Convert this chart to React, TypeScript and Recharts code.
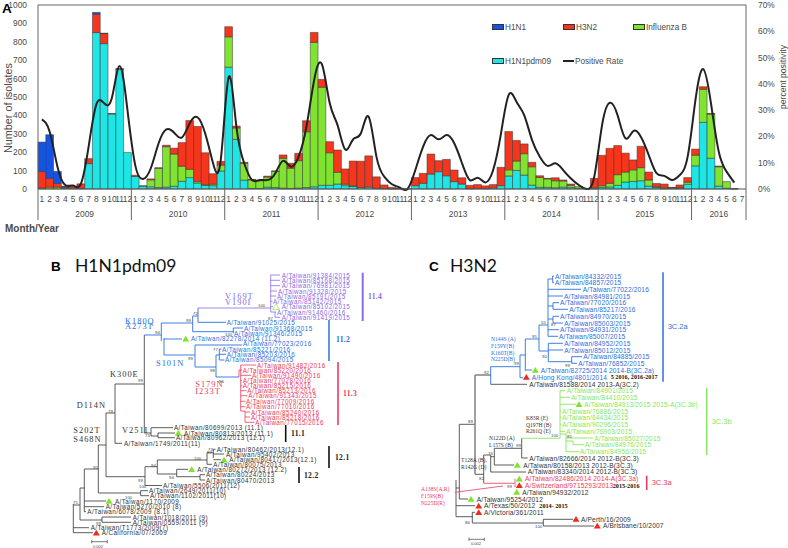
import React from "react";
import {
  ComposedChart, Bar, Line, XAxis, YAxis, ReferenceLine, Legend,
  ScatterChart, Scatter,
} from "recharts";

/* ---------- Panel A data ---------- */
const years = [2009, 2010, 2011, 2012, 2013, 2014, 2015, 2016];
const monthsInYear = [12, 12, 12, 12, 12, 12, 12, 7];
const countTicks = [0, 100, 200, 300, 400, 500, 600, 700, 800, 900, 1000];
const rateTicks = [0, 10, 20, 30, 40, 50, 60, 70];

const h1n1pdm09 = [
  0, 0, 0, 0, 0, 3, 138, 850, 790, 408, 650, 198,
  68, 15, 12, 8, 10, 15, 42, 62, 32, 20, 18, 98,
  662, 270, 48, 3, 3, 10, 8, 5, 3, 5, 8, 12,
  20, 20, 27, 18, 14, 8, 10, 4, 2, 1, 1, 0,
  18, 31, 81, 94, 72, 40, 27, 2, 3, 2, 6, 18,
  71, 101, 76, 21, 9, 9, 7, 10, 9, 5, 2, 2,
  9, 11, 20, 38, 41, 45, 16, 9, 2, 4, 5, 26,
  126, 362, 167, 16, 4, 1, 0,
];
const influenzaB = [
  5, 10, 10, 5, 5, 0, 0, 0, 0, 0, 0, 0,
  0, 3, 38, 105, 220, 175, 82, 45, 8, 3, 8, 32,
  165, 62, 92, 47, 42, 55, 88, 162, 110, 149, 303, 785,
  533, 177, 64, 8, 3, 0, 0, 0, 0, 0, 0, 0,
  0, 0, 0, 0, 0, 0, 0, 0, 0, 0, 0, 0,
  33, 51, 116, 100, 54, 46, 38, 34, 11, 8, 1, 5,
  9, 20, 58, 54, 63, 71, 33, 3, 5, 2, 2, 11,
  58, 180, 240, 105, 36, 0, 0,
];
const h3n2 = [
  90, 48, 20, 5, 10, 25, 27, 100, 55, 2, 5, 0,
  7, 0, 5, 2, 8, 32, 128, 265, 300, 174, 57, 20,
  55, 10, 5, 2, 3, 5, 2, 18, 27, 40, 60, 54,
  43, 60, 121, 83, 135, 143, 170, 62, 20, 8, 3, 1,
  44, 54, 109, 60, 89, 63, 34, 18, 21, 15, 18, 100,
  208, 112, 53, 24, 9, 3, 16, 5, 7, 0, 0, 51,
  165, 190, 158, 103, 54, 116, 43, 18, 20, 3, 15, 25,
  33, 14, 4, 4, 0, 1, 0,
];
const h1n1 = [
  160, 237, 65, 5, 0, 0, 0, 10, 2, 0, 0, 0,
  0, 0, 0, 0, 0, 0, 0, 0, 0, 0, 0, 0,
  0, 0, 0, 0, 0, 0, 0, 0, 0, 0, 0, 0,
  0, 0, 0, 0, 0, 0, 0, 0, 0, 0, 0, 0,
  0, 0, 0, 0, 0, 0, 0, 0, 0, 0, 0, 0,
  0, 0, 0, 0, 0, 0, 0, 0, 0, 0, 0, 0,
  0, 0, 0, 0, 0, 0, 0, 0, 0, 0, 0, 0,
  0, 0, 0, 0, 0, 0, 0,
];
const positiveRate: (number | null)[] = [
  26.5, 21.8, 8.5, 1.5, 1.3, 1.9, 16, 32.2, 32.6, 34.7, 46.8, 30,
  9, 3.8, 7.9, 17.4, 22.7, 21.4, 19.6, 25, 27.3, 21, 9.8, 11.3,
  42.5, 23.7, 9.8, 3.4, 3.4, 3.4, 6, 10.7, 8.5, 12.3, 23.7, 41.5,
  47.4, 32.6, 24.3, 15, 18.9, 21.2, 27.5, 12.3, 4.7, 1.8, 0.5, 0,
  7.2, 16.1, 20.5, 18.9, 20.5, 17.4, 9.8, 3.4, 4.3, 2.5, 7.2, 21,
  35.8, 33.2, 28, 18.6, 12.3, 8.8, 9.8, 7.2, 4, 1.5, 0, 4.7,
  24.3, 32.8, 28, 19.3, 22, 19.8, 12.9, 6, 5, 3.4, 5.3, 12.3,
  33.8, 45.6, 32.6, 14.2, 6.6, 2.4, null,
];

const monthKeys: string[] = [];
years.forEach((y, i) => {
  for (let m = 1; m <= monthsInYear[i]; m++) monthKeys.push(`${y}-${m}`);
});
const rows = monthKeys.map((key, i) => ({
  key,
  h1n1pdm09: h1n1pdm09[i],
  influenzaB: influenzaB[i],
  h3n2: h3n2[i],
  h1n1: h1n1[i],
  positiveRate: positiveRate[i],
}));

const C_PDM = "#1fe6e6";
const C_B = "#7fe32f";
const C_H3 = "#f5351c";
const C_H1 = "#1553e0";
const TXT = "#4a4a4a";
const SANS = "'Liberation Sans', Arial, sans-serif";
const SERIF = "'Liberation Serif', serif";
const BAND = 708 / 91;

function MonthTick(props: any) {
  const { x, y, payload, index } = props;
  const [yr, m] = String(payload.value).split("-").map(Number);
  const yi = years.indexOf(yr);
  const n = monthsInYear[yi];
  return (
    <g>
      <text x={x} y={y + 5} textAnchor="middle" fontFamily={SANS} fontSize={8.4} fill={TXT}>{m}</text>
      {m === 1 && (
        <>
          <line x1={x - BAND / 2} x2={x - BAND / 2} y1={y - 8} y2={y + 23} stroke="#666" strokeWidth={1} />
          <text x={x + ((n - 1) / 2) * BAND} y={y + 20} textAnchor="middle" fontFamily={SANS} fontSize={8.4} fill={TXT}>{yr}</text>
        </>
      )}
      {index === monthKeys.length - 1 && (
        <line x1={x + BAND / 2} x2={x + BAND / 2} y1={y - 8} y2={y + 23} stroke="#666" strokeWidth={1} />
      )}
    </g>
  );
}

const legendItems = [
  { name: "H1N1", color: C_H1, left: 492, top: 27 },
  { name: "H3N2", color: C_H3, left: 563, top: 27 },
  { name: "Influenza B", color: C_B, left: 633, top: 27 },
  { name: "H1N1pdm09", color: C_PDM, left: 492, top: 61 },
  { name: "Positive Rate", color: null, left: 563, top: 61 },
];
function ChartLegend() {
  return (
    <div>
      {legendItems.map((it) => (
        <div key={it.name} style={{ position: "absolute", left: it.left, top: it.top - 6, height: 12, display: "flex", alignItems: "center", fontFamily: SANS, fontSize: 8.2, color: TXT, whiteSpace: "nowrap" }}>
          {it.color ? (
            <span style={{ display: "inline-block", width: 10, height: 4, background: it.color, border: "0.5px solid #333", marginRight: 1 }} />
          ) : (
            <span style={{ display: "inline-block", width: 11, height: 1.5, background: "#222", marginRight: 1 }} />
          )}
          {it.name}
        </div>
      ))}
    </div>
  );
}

/* ---------- Panel B data: [name, depth, row] ---------- */
type Taxon = [string, number, number];
const pdmPurple: Taxon[] = [
  ["A/Taiwan/91384/2015", 281.7, 275], ["A/Taiwan/85168/2015", 281.7, 280.3], ["A/Taiwan/76981/2015", 281.7, 285.7],
  ["A/Taiwan/91328/2015", 278, 291], ["A/Taiwan/85191/2015", 277, 296], ["A/Taiwan/85142/2015", 273, 301.3],
  ["A/Taiwan/85102/2015", 281.7, 306.7], ["A/Taiwan/91460/2016", 277, 312], ["A/Taiwan/91419/2015", 281.7, 317.3],
];
const pdmBlue: Taxon[] = [
  ["A/Taiwan/91025/2015", 226.7, 322.3], ["A/Taiwan/91368/2015", 244, 328], ["A/Taiwan/91346/2015", 234, 333.3],
  ["A/Taiwan/82278/2014 (11.2)", 191, 338.7], ["A/Taiwan/77023/2016", 243, 343.7], ["A/Taiwan/85221/2016", 222, 349],
  ["A/Taiwan/85203/2016", 226.7, 354.3], ["A/Taiwan/85094/2015", 225, 359.7],
];
const pdmRed: Taxon[] = [
  ["A/Taiwan/91482/2016", 257, 365], ["A/Taiwan/85220/2016", 242.7, 370], ["A/Taiwan/91490/2016", 252, 375.3],
  ["A/Taiwan/77028/2016", 242.7, 380.3], ["A/Taiwan/85215/2016", 242.7, 385.7], ["A/Taiwan/85213/2016", 247.3, 390.7],
  ["A/Taiwan/91343/2015", 248.3, 395.7], ["A/Taiwan/77009/2016", 246, 401.3], ["A/Taiwan/77010/2016", 246, 406.7],
  ["A/Taiwan/85240/2016", 251, 412], ["A/Taiwan/85218/2016", 251, 417], ["A/Taiwan/77015/2016", 255.3, 422.3],
];
const pdmBlack: Taxon[] = [
  ["A/Taiwan/80699/2013 (11.1)", 174, 427.7], ["A/Taiwan/80813/2013 (11.1)", 184, 433], ["A/Taiwan/80962/2013 (11.1)", 176, 437.7],
  ["A/Taiwan/1749/2011(11)", 124, 443.3], ["A/Taiwan/80462/2013(12.1)", 216.7, 449.3], ["A/Taiwan/95402/2013", 226, 454],
  ["A/Taiwan/80417/2013(12.1)", 229.3, 459.7], ["A/Taiwan/80075/2013", 213.3, 464.3], ["A/Taiwan/80272/2013 (12.2)", 197.3, 469.3],
  ["A/Taiwan/80224/2013", 206, 474.7], ["A/Taiwan/80470/2013", 206, 480], ["A/Taiwan/5506/2011(12)", 163, 485],
  ["A/Taiwan/2649/2011(10)", 149, 490.7], ["A/Taiwan/1102/2011(10)", 150, 495.7], ["A/Taiwan/1170/2009", 115, 501],
  ["A/Taiwan/5270/2010 (8)", 105.7, 506.7], ["A/Taiwan/6078/2009 (8.1)", 87.3, 511.7], ["A/Taiwan/1018/2011 (9)", 132.7, 517],
  ["A/Taiwan/0559/2011 (9)", 132.7, 522.3], ["A/Taiwan/T1773/2009(7)", 90.7, 527.7], ["A/California/07/2009", 101.7, 532.7],
];

/* ---------- Panel C data ---------- */
const h3Blue: Taxon[] = [
  ["A/Taiwan/84332/2015", 555, 276], ["A/Taiwan/84857/2015", 555, 282.7], ["A/Taiwan/77022/2016", 582.7, 289.3],
  ["A/Taiwan/84981/2015", 564, 296], ["A/Taiwan/77020/2016", 560, 302.7], ["A/Taiwan/85217/2016", 569.3, 309.3],
  ["A/Taiwan/84970/2015", 560, 316.3], ["A/Taiwan/85003/2015", 564.3, 323], ["A/Taiwan/84931/2015", 560, 329.7],
  ["A/Taiwan/85007/2015", 559, 336.3], ["A/Taiwan/84952/2015", 564.3, 343.3], ["A/Taiwan/85012/2015", 564.3, 350],
  ["A/Taiwan/84885/2015", 583.3, 356.7], ["A/Taiwan/76852/2015", 578.3, 363.3], ["A/Taiwan/82725/2014 2014-B(3C.2a)", 540.7, 370],
  ["A/Hong Kong/4801/2014", 531.7, 377],
];
const h3Green: Taxon[] = [
  ["A/Taiwan/84901/2015", 566.7, 390.7], ["A/Taiwan/84410/2015", 571.3, 397.3], ["A/Taiwan/84913/2015 2015-A(3C.3b)", 584.3, 404.3],
  ["A/Taiwan/76886/2015", 562, 411], ["A/Taiwan/84434/2015", 562, 417.7], ["A/Taiwan/90296/2015", 562, 424.3],
  ["A/Taiwan/76903/2015", 566, 431.3], ["A/Taiwan/85027/2015", 594.3, 438], ["A/Taiwan/84976/2015", 585, 444.7],
  ["A/Taiwan/84956/2015", 580, 451.7],
];
const h3Black: Taxon[] = [
  ["A/Taiwan/81588/2014 2013-A(3C.2)", 529.3, 384], ["A/Taiwan/82666/2014 2012-B(3C.3)", 529.3, 458],
  ["A/Taiwan/80158/2013 2012-B(3C.3)", 523.3, 465], ["A/Taiwan/83340/2014 2012-B(3C.3)", 527.7, 471.7],
  ["A/Taiwan/94932/2012", 522.3, 492], ["A/Taiwan/95254/2012", 476.7, 499], ["A/Texas/50/2012", 484, 505.7],
  ["A/Victoria/361/2011", 484, 512.3], ["A/Perth/16/2009", 581, 519], ["A/Brisbane/10/2007", 603, 525.7],
];
const h3Red: Taxon[] = [
  ["A/Taiwan/82486/2014 2014-A(3C.3a)", 525, 478.7], ["A/Switzerland/9715293/2013", 525, 485.3],
];
const seasonNotes: Taxon[] = [
  ["5 2016, 2016-2017", 610.7, 376.5], ["2015-2016", 612.7, 485.3], ["2014- 2015", 539.3, 505.7],
];

const greenMarks: [number, number][] = [
  [185.7, 338.7], [178.3, 433], [224, 459.7], [191.7, 469.3], [109, 501],
  [535.3, 370], [579, 404.3], [517.3, 465], [519.3, 478.7], [516.7, 492], [471, 499],
];
const hollowMarks: [number, number][] = [[276, 306.7]];
const redMarks: [number, number][] = [
  [96.3, 532.7], [526.3, 377], [519.3, 485.3], [478.7, 505.7], [478.7, 512.3], [576, 519], [597.3, 525.7],
];

const mutationsBlue: Taxon[] = [
  ["K180Q", 125, 321], ["A273T", 125, 326.7], ["S101N", 156, 363],
];
const mutationsPurple: Taxon[] = [["V169T", 225, 296.7], ["V190I", 225, 302.5]];
const mutationsRed: Taxon[] = [["S179N", 195.3, 384.7], ["I233T", 195.3, 391]];
const mutationsBlack: Taxon[] = [
  ["K300E", 110, 374], ["D114N", 76.7, 405.7], ["S202T", 73.3, 430.7], ["S468N", 73.3, 439.3], ["V251I", 122, 430],
];
const smallBlue: Taxon[] = [
  ["N144S (A)", 491, 339], ["F159Y(B)", 491, 346], ["K160T(B)", 491, 352.5], ["N225D(B)", 491, 359],
];
const smallBlack: Taxon[] = [
  ["K83R (E)", 526, 417.7], ["Q197H (B)", 526, 424.7], ["R261Q (E)", 526, 431],
  ["N122D (A)", 489, 438], ["L157S (B)", 489, 445], ["T128A (B),", 461, 460], ["R142G (D)", 461, 467],
];
const smallRed: Taxon[] = [
  ["A138S(A,R)", 421, 489], ["F159S(B)", 421, 496], ["N225D(R)", 421, 503],
];
const bootstrap: Taxon[] = [
  ["72", 193, 313], ["99", 186, 320], ["94", 155, 332], ["100", 225, 334], ["100", 258, 305], ["87", 268, 318],
  ["77", 213, 349], ["98", 210, 370], ["99", 188, 358], ["99", 138, 380], ["96", 219, 381], ["79", 108, 411],
  ["73", 145, 435], ["95", 93, 467], ["99", 138, 480], ["94", 151, 465], ["94", 169, 477], ["100", 194, 458],
  ["97", 207, 452], ["73", 208, 449], ["100", 139, 486], ["75", 73, 502], ["99", 96, 523], ["100", 125, 497],
  ["92", 484, 372], ["99", 514, 363], ["95", 532, 336], ["55", 541, 322], ["87", 551, 324], ["90", 542, 356],
  ["99", 565, 365], ["89", 468, 421], ["99", 516, 445], ["100", 551, 435], ["85", 567, 436], ["76", 488, 453],
  ["82", 479, 478], ["99", 507, 486], ["86", 465, 522], ["100", 535, 526],
];
const bracketLabelsBlue: Taxon[] = [["11.2", 336, 339]];
const bracketLabelsPurple: Taxon[] = [["11.4", 368, 296]];
const bracketLabelsRed: Taxon[] = [["11.3", 343, 393]];
const bracketLabelsBlack: Taxon[] = [["11.1", 291, 433], ["12.1", 335, 457], ["12.2", 304, 475]];
const cladeLabelBlue: Taxon[] = [["3C.2a", 667.7, 326.5]];
const cladeLabelGreen: Taxon[] = [["3C.3b", 711.7, 421.5]];
const cladeLabelRed: Taxon[] = [["3C.3a", 651.7, 482]];
const panelLetters: Taxon[] = [["A", 2, 8.5], ["B", 51, 266], ["C", 429, 266]];
const panelTitles: Taxon[] = [["H1N1pdm09", 75, 265], ["H3N2", 450, 265]];
const scaleTexts: Taxon[] = [["0.002", 93, 546], ["0.002", 471, 543.7]];

/* branch segments: [depth1, row1, depth2, row2] */
type Seg = [number, number, number, number];
const branchesBlack: Seg[] = [
  [73.3, 504, 73.3, 532.7], [73.3, 532.7, 93, 532.7], [73.3, 527.7, 89, 527.7], [73.3, 505, 80, 505], [80, 488, 80, 520],
  [80, 520, 102, 520], [102, 517, 102, 522.3], [102, 517, 131, 517], [102, 522.3, 131, 522.3], [80, 488, 84.3, 488],
  [84.3, 469, 84.3, 511.7], [84.3, 511.7, 86, 511.7], [84.3, 501, 106, 501], [84.3, 506.7, 104, 506.7], [84.3, 469, 98.3, 469],
  [98.3, 445, 98.3, 493], [98.3, 493, 140.7, 493], [140.7, 490.7, 140.7, 495.7], [140.7, 490.7, 148, 490.7], [140.7, 495.7, 149, 495.7],
  [98.3, 445, 106, 445], [106, 413, 106, 476.7], [106, 476.7, 145, 476.7], [145, 466.7, 145, 485.5], [145, 485.5, 162, 485.5],
  [145, 466.7, 157.3, 466.7], [157.3, 460, 157.3, 474], [157.3, 460, 207, 460], [207, 452.7, 207, 464.3], [207, 452.7, 213.3, 452.7],
  [213.3, 449.3, 213.3, 458], [213.3, 449.3, 215.5, 449.3], [213.3, 454, 224, 454], [213.3, 459.7, 221, 459.7], [207, 464.3, 212, 464.3],
  [157.3, 474, 176.7, 474], [176.7, 469.3, 176.7, 476.7], [176.7, 469.3, 188, 469.3], [176.7, 476.7, 200, 476.7], [200, 474.7, 200, 480],
  [200, 474.7, 205, 474.7], [200, 480, 205, 480], [106, 413, 115, 413], [115, 384, 115, 443.3], [115, 443.3, 122, 443.3],
  [115, 384, 144.3, 384], [144.3, 335, 144.3, 433], [144.3, 433, 151, 433], [151, 428, 151, 436], [151, 427.7, 173, 427.7],
  [151, 436, 158, 436], [158, 433, 158, 437.7], [158, 433, 175, 433], [158, 437.7, 175, 437.7],
  /* panel C */
  [456, 480, 456, 516.7], [456, 516.7, 472.3, 516.7], [472.3, 512.3, 472.3, 523], [472.3, 512.3, 475, 512.3], [472.3, 523, 543.3, 523],
  [543.3, 519.3, 543.3, 526], [543.3, 519.3, 573, 519.3], [543.3, 526, 594, 526], [456, 505.7, 475, 505.7], [456, 488, 459.3, 488],
  [459.3, 424.3, 459.3, 499], [459.3, 499, 468, 499], [459.3, 424.3, 475, 424.3], [475, 474.3, 483.7, 474.3], [483.7, 455, 483.7, 483],
  [483.7, 455, 490.7, 455], [490.7, 455, 490.7, 472], [490.7, 472, 526, 472], [490.7, 456.7, 494.3, 456.7], [494.3, 448.3, 494.3, 465],
  [494.3, 465, 514, 465], [494.3, 448.3, 521.7, 448.3], [521.7, 438.3, 521.7, 458], [521.7, 458, 527.7, 458], [490.7, 384.3, 527, 384.3],
];
const branchesGray: Seg[] = [
  [475, 375, 475, 474.3], [475, 375, 490.7, 375],
];
const branchesBlue: Seg[] = [
  [144.3, 335, 161.3, 335], [161.3, 323, 161.3, 341], [161.3, 323, 192.7, 323], [192.7, 316, 192.7, 331.7], [192.7, 331.7, 233.3, 331.7],
  [233.3, 328, 233.3, 333.3], [233.3, 328, 243, 328], [192.7, 316, 198, 316], [198, 308, 198, 322.3], [198, 322.3, 226, 322.3],
  [164, 338, 164, 355], [164, 339, 182, 339], [164, 355, 195, 355], [195, 345, 195, 367], [195, 345, 242, 345], [195, 367, 216, 367],
  [216, 355, 216, 377], [216, 355, 219.3, 355], [219.3, 349, 219.3, 360], [219.3, 349, 221.5, 349], [219.3, 354.3, 226, 354.3], [219.3, 360, 224.5, 360],
  [216, 377, 239, 377],
  /* panel C */
  [490.7, 366.7, 490.7, 384.3], [490.7, 366.7, 520, 366.7], [520, 355, 520, 377.7], [520, 377.7, 523, 377.7], [520, 355, 525.3, 355],
  [525.3, 339, 525.3, 370.7], [525.3, 370, 532, 370], [525.3, 339, 539, 339], [539, 325, 539, 351], [539, 351, 548.3, 351],
  [548.3, 343.3, 548.3, 361.7], [548.3, 343.3, 563, 343.3], [548.3, 350, 563, 350], [548.3, 361.7, 571.7, 361.7], [571.7, 356.7, 571.7, 363.3],
  [571.7, 356.7, 582, 356.7], [571.7, 363.3, 577, 363.3], [539, 325, 548, 325], [548, 279, 548, 336.3], [548, 279, 552.7, 279],
  [552.7, 276, 552.7, 282.7], [552.7, 276, 554, 276], [552.7, 282.7, 554, 282.7], [548, 289.3, 581, 289.3], [548, 296, 563, 296],
  [548, 306, 553, 306], [553, 302.7, 553, 309.3], [553, 302.7, 559, 302.7], [553, 309.3, 568, 309.3], [548, 319, 553, 319],
  [553, 316.3, 553, 323], [553, 316.3, 559, 316.3], [553, 323, 563, 323], [548, 329.7, 559, 329.7], [548, 336.3, 558, 336.3],
];
const branchesPurple: Seg[] = [
  [198, 308, 270.7, 308], [270.7, 275, 270.7, 312], [270.7, 275, 280, 275], [270.7, 280.3, 280, 280.3], [270.7, 285.7, 280, 285.7],
  [270.7, 291, 277, 291], [270.7, 296, 276, 296], [270.7, 301.3, 272.5, 301.3], [270.7, 306.7, 273, 306.7], [270.7, 312, 275, 312],
  [275, 312, 275, 317.3], [275, 312, 276, 312], [275, 317.3, 280, 317.3],
];
const branchesRed: Seg[] = [
  [239, 370, 239, 377], [239, 370, 240.7, 370], [240.7, 365, 240.7, 411], [240.7, 365, 256, 365], [240.7, 370, 242, 370],
  [240.7, 375.3, 251, 375.3], [240.7, 380.3, 242, 380.3], [240.7, 385.7, 242, 385.7], [240.7, 390.7, 246.5, 390.7], [240.7, 395.7, 247.5, 395.7],
  [240.7, 401.3, 245.5, 401.3], [240.7, 406.7, 245.5, 406.7], [240.7, 411, 245, 411], [245, 411, 245, 422.3], [245, 412, 250, 412],
  [245, 417, 250, 417], [245, 422.3, 254.5, 422.3],
  /* panel C */
  [483.7, 483.3, 514.5, 483.3], [515, 478.7, 515, 487], [455, 492.3, 503, 486],
];
const branchesGreen: Seg[] = [
  [521.7, 438.3, 560, 438.3], [560, 390.7, 560, 438.3], [560, 390.7, 565, 390.7], [560, 397.3, 570, 397.3], [560, 404.3, 576, 404.3],
  [560, 411, 561, 411], [560, 417.7, 561, 417.7], [560, 424.3, 561, 424.3], [560, 431.3, 565, 431.3], [560, 434, 566, 434],
  [566, 434, 566, 451.7], [566, 438, 593, 438], [566, 441, 573, 441], [573, 441, 573, 444.7], [573, 444.7, 584, 444.7], [566, 451.7, 579, 451.7],
];
const bracketsBlue: Seg[] = [[329, 320, 329, 361], [663, 272.3, 663, 381.7]];
const bracketsPurple: Seg[] = [[362.7, 272.7, 362.7, 321]];
const bracketsRed: Seg[] = [[338, 362, 338, 425], [646.7, 475.7, 646.7, 490]];
const bracketsBlack: Seg[] = [[285.7, 425, 285.7, 442], [329, 446, 329, 468], [299, 467, 299, 483]];
const bracketsGreen: Seg[] = [[706.7, 388, 706.7, 455]];
const scaleBars: Seg[] = [
  [91.7, 541.7, 107.3, 541.7], [91.7, 540, 91.7, 543.4], [107.3, 540, 107.3, 543.4],
  [469, 539.3, 484.3, 539.3], [469, 537.6, 469, 541], [484.3, 537.6, 484.3, 541],
];

const C_BLUE = "#2a6fe0";
const C_PURPLE = "#8a6ce6";
const C_RED = "#ec3a5c";
const C_GREEN = "#86e65e";
const C_BLACK = "#333";

const textShape = (opts: any) => (p: any) => {
  const d = p.payload || p;
  return (
    <text
      x={p.cx}
      y={p.cy}
      dominantBaseline="central"
      textAnchor={opts.anchor || "start"}
      fontFamily={opts.family || SANS}
      fontSize={opts.size}
      fontWeight={opts.weight || "normal"}
      letterSpacing={opts.spacing || 0}
      fill={opts.fill}
      transform={opts.rotate ? `rotate(${opts.rotate} ${p.cx} ${p.cy})` : undefined}
    >
      {d.name}
    </text>
  );
};
const markShape = (fill: string, stroke: string) => (p: any) => (
  <polygon
    points={`${p.cx - 3.5},${p.cy + 2.8} ${p.cx + 3.5},${p.cy + 2.8} ${p.cx},${p.cy - 3}`}
    fill={fill}
    stroke={stroke}
    strokeWidth={0.6}
  />
);
const toPts = (a: Taxon[]) => a.map(([name, x, y]) => ({ name, x, y }));
const toMarks = (a: [number, number][]) => a.map(([x, y]) => ({ x, y }));

const segLines = (segs: Seg[], stroke: string, w: number, id: string) =>
  segs.map(([x1, y1, x2, y2], i) => (
    <ReferenceLine
      key={`${id}${i}`}
      segment={[{ x: x1, y: y1 }, { x: x2, y: y2 }]}
      stroke={stroke}
      strokeWidth={w}
      ifOverflow="visible"
    />
  ));

const textGroups: [string, Taxon[], any][] = [
  ["pp", pdmPurple, { size: 6.3, spacing: 0.42, fill: C_PURPLE }],
  ["pb", pdmBlue, { size: 6.3, spacing: 0.42, fill: C_BLUE }],
  ["pr", pdmRed, { size: 6.3, spacing: 0.42, fill: C_RED }],
  ["pk", pdmBlack, { size: 6.3, spacing: 0.42, fill: C_BLACK }],
  ["hb", h3Blue, { size: 6.6, spacing: 0.15, fill: C_BLUE }],
  ["hg", h3Green, { size: 6.6, spacing: 0.15, fill: C_GREEN }],
  ["hk", h3Black, { size: 6.6, spacing: 0.15, fill: C_BLACK }],
  ["hr", h3Red, { size: 6.6, spacing: 0.15, fill: C_RED }],
  ["sn", seasonNotes, { size: 6.2, fill: "#111", weight: "bold", family: SERIF }],
  ["mb", mutationsBlue, { size: 8.4, spacing: 1, fill: C_BLUE, family: SERIF }],
  ["mp", mutationsPurple, { size: 8.4, spacing: 1, fill: C_PURPLE, family: SERIF }],
  ["mr", mutationsRed, { size: 8.4, spacing: 1, fill: C_RED, family: SERIF }],
  ["mk", mutationsBlack, { size: 8.4, spacing: 1, fill: C_BLACK, family: SERIF }],
  ["sb", smallBlue, { size: 5.6, fill: C_BLUE, family: SERIF }],
  ["sk", smallBlack, { size: 5.6, fill: C_BLACK, family: SERIF }],
  ["sr", smallRed, { size: 5.6, fill: C_RED, family: SERIF }],
  ["bs", bootstrap, { size: 4.3, fill: "#444" }],
  ["lb", bracketLabelsBlue, { size: 7.6, spacing: 0.3, fill: C_BLUE, family: SERIF, weight: "bold" }],
  ["lp", bracketLabelsPurple, { size: 7.6, spacing: 0.3, fill: C_PURPLE, family: SERIF, weight: "bold" }],
  ["lr", bracketLabelsRed, { size: 7.6, spacing: 0.3, fill: C_RED, family: SERIF, weight: "bold" }],
  ["lk", bracketLabelsBlack, { size: 7.6, spacing: 0.3, fill: "#222", family: SERIF, weight: "bold" }],
  ["cb", cladeLabelBlue, { size: 7.5, fill: C_BLUE }],
  ["cg", cladeLabelGreen, { size: 7.5, fill: C_GREEN }],
  ["cr", cladeLabelRed, { size: 7.5, fill: C_RED }],
  ["pl", panelLetters, { size: 13.5, fill: "#000", weight: "bold" }],
  ["pt", panelTitles, { size: 17.5, fill: "#111", family: "Lato, sans-serif" }],
  ["st", scaleTexts, { size: 4, fill: "#444" }],
  ["yl", [["Number of isolates", 8, 108]] as Taxon[], { size: 10.8, fill: TXT, anchor: "middle", rotate: -90 }],
  ["yr", [["percent positivity", 783, 77]] as Taxon[], { size: 8.6, fill: TXT, anchor: "middle", rotate: -90 }],
  ["mo", [["Month/Year", 5, 228]] as Taxon[], { size: 10, fill: TXT, weight: "bold" }],
];

export default function App() {
  const axisTick = { fontFamily: SANS, fontSize: 8.4, fill: TXT };
  return (
    <div style={{ position: "absolute", left: 0, top: 0, width: 788, height: 548, background: "#fff", overflow: "hidden" }}>
      <div style={{ position: "absolute", left: 0, top: 0 }}>
        <ComposedChart
          width={788}
          height={225}
          data={rows}
          margin={{ top: 5, right: 0, bottom: 0, left: 0 }}
          barCategoryGap={0}
          barGap={0}
          barSize={7.75}
        >
          <XAxis
            dataKey="key"
            xAxisId={0}
            interval={0}
            height={36}
            tickLine={false}
            tick={<MonthTick />}
            axisLine={{ stroke: "#555" }}
          />
          <YAxis
            yAxisId="count"
            width={38}
            domain={[0, 1000]}
            ticks={countTicks}
            tick={axisTick}
            tickLine={false}
            tickMargin={5}
            axisLine={{ stroke: "#666" }}
            interval={0}
          />
          <YAxis
            yAxisId="rate"
            orientation="right"
            width={42}
            domain={[0, 70]}
            ticks={rateTicks}
            tick={axisTick}
            tickFormatter={(v: number) => `${v}%`}
            tickLine={false}
            tickMargin={6}
            axisLine={{ stroke: "#666" }}
            interval={0}
          />
          <ReferenceLine yAxisId="count" y={1000} stroke="#666" strokeWidth={1} />
          <Bar yAxisId="count" dataKey="h1n1pdm09" stackId="s" fill={C_PDM} stroke="#333" strokeWidth={0.5} isAnimationActive={false} />
          <Bar yAxisId="count" dataKey="influenzaB" stackId="s" fill={C_B} stroke="#333" strokeWidth={0.5} isAnimationActive={false} />
          <Bar yAxisId="count" dataKey="h3n2" stackId="s" fill={C_H3} stroke="#333" strokeWidth={0.5} isAnimationActive={false} />
          <Bar yAxisId="count" dataKey="h1n1" stackId="s" fill={C_H1} stroke="#333" strokeWidth={0.5} isAnimationActive={false} />
          <Line
            yAxisId="rate"
            dataKey="positiveRate"
            type="natural"
            stroke="#222"
            strokeWidth={2}
            dot={false}
            connectNulls={false}
            isAnimationActive={false}
          />
          <Legend content={<ChartLegend />} wrapperStyle={{ position: "absolute", left: 0, top: 0, width: 0, height: 0 }} />
        </ComposedChart>
      </div>
      <div style={{ position: "absolute", left: 0, top: 0 }}>
        <ScatterChart width={788} height={548} margin={{ top: 0, right: 0, bottom: 0, left: 0 }}>
          <XAxis dataKey="x" type="number" domain={[0, 788]} allowDataOverflow hide />
          <YAxis dataKey="y" type="number" domain={[0, 548]} allowDataOverflow reversed hide />
          {segLines(branchesBlack, C_BLACK, 0.8, "k")}
          {segLines(branchesGray, "#888", 1.6, "g")}
          {segLines(branchesBlue, C_BLUE, 0.9, "b")}
          {segLines(branchesPurple, C_PURPLE, 0.8, "p")}
          {segLines(branchesRed, C_RED, 0.8, "r")}
          {segLines(branchesGreen, C_GREEN, 0.9, "n")}
          {segLines(bracketsBlue, C_BLUE, 1.5, "bb")}
          {segLines(bracketsPurple, C_PURPLE, 2, "bp")}
          {segLines(bracketsRed, C_RED, 1.6, "br")}
          {segLines(bracketsBlack, "#111", 1.6, "bk")}
          {segLines(bracketsGreen, C_GREEN, 1.4, "bg")}
          {segLines(scaleBars, "#444", 0.7, "sc")}
          <Scatter data={toMarks(greenMarks)} shape={markShape(C_B, "none")} isAnimationActive={false} />
          <Scatter data={toMarks(hollowMarks)} shape={markShape("none", C_B)} isAnimationActive={false} />
          <Scatter data={toMarks(redMarks)} shape={markShape("#ee2b1e", "none")} isAnimationActive={false} />
          {textGroups.map(([id, arr, opts]) => (
            <Scatter key={id} data={toPts(arr)} shape={textShape(opts)} isAnimationActive={false} />
          ))}
        </ScatterChart>
      </div>
    </div>
  );
}
